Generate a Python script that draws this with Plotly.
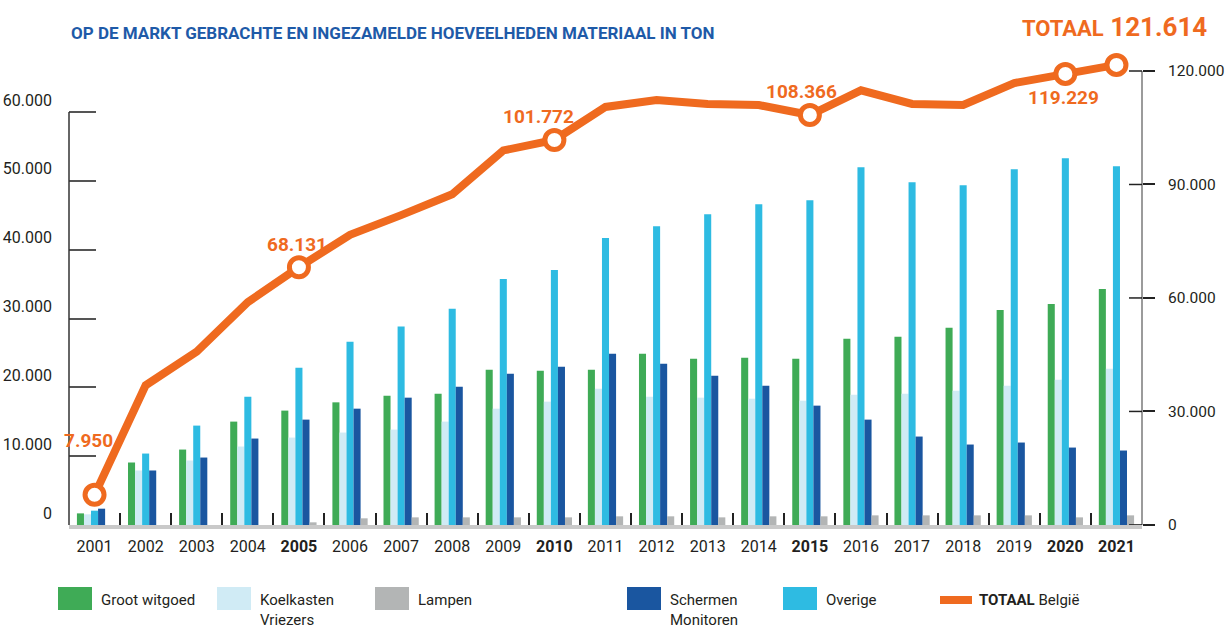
import plotly.graph_objects as go

# --- data (ton) ---
years = [str(y) for y in range(2001, 2022)]
groot_witgoed = [1690, 9080, 10960, 15020, 16620, 17820, 18790, 19080, 22560, 22410,
                 22560, 24870, 24150, 24290, 24150, 27050, 27340, 28640, 31250, 32120, 34290]
koelkasten = [1550, 7920, 9370, 11400, 12700, 13430, 13860, 15020, 16900, 17920,
              19800, 18640, 18500, 18350, 18060, 18930, 19080, 19510, 20240, 21110, 22700]
overige = [2080, 10380, 14440, 18640, 22850, 26610, 28830, 31400, 35740, 37050,
           41680, 43420, 45160, 46610, 47190, 51970, 49800, 49360, 51680, 53270, 52110]
schermen = [2370, 7920, 9800, 12560, 15310, 16900, 18500, 20090, 21980, 22990,
            24870, 23430, 21690, 20240, 17340, 15310, 12850, 11690, 11980, 11250, 10820]
lampen = [0, 0, 0, 0, 390, 970, 1110, 1110, 1110, 1110,
          1260, 1260, 1110, 1260, 1260, 1400, 1400, 1400, 1400, 1110, 1400]
totaal = [7950, 36900, 45800, 58900, 68131, 76700, 81900, 87400, 99000, 101772,
          110500, 112300, 111300, 111000, 108366, 114900, 111300, 111000, 116800, 119229, 121614]
highlight_years = ["2001", "2005", "2010", "2015", "2020", "2021"]
bold_years = ["2005", "2010", "2015", "2020", "2021"]
left_ticks = [0, 10000, 20000, 30000, 40000, 50000, 60000]
right_ticks = [0, 30000, 60000, 90000, 120000]

# --- style ---
FONT = "Roboto, Noto Sans, sans-serif"
C_GREEN = "#3fab56"
C_LIGHT = "#d0ebf5"
C_CYAN = "#2ebbe2"
C_DARK = "#1a56a0"
C_GRAY = "#b3b5b5"
C_ORANGE = "#ef6a1f"
C_BLUE_TITLE = "#1e5aa8"
C_TEXT = "#231f20"

W, H = 1227, 628
ML, MR, MT, MB = 69, 85, 60, 103
PW, PH = W - ML - MR, H - MT - MB
BOTTOM = H - MB  # pixel row of the baseline


def px(x, y):
    """pixel position -> paper coordinates"""
    return (x - ML) / PW, (BOTTOM - y) / PH


def fmt(v):
    return f"{v:,}".replace(",", ".")


fig = go.Figure()

series = [
    ("Groot witgoed", groot_witgoed, C_GREEN),
    ("Koelkasten Vriezers", koelkasten, C_LIGHT),
    ("Overige", overige, C_CYAN),
    ("Schermen Monitoren", schermen, C_DARK),
    ("Lampen", lampen, C_GRAY),
]
for name, vals, col in series:
    fig.add_trace(go.Bar(x=years, y=vals, name=name, marker=dict(color=col, line=dict(width=0)),
                         yaxis="y"))

fig.add_trace(go.Scatter(x=years, y=totaal, mode="lines", yaxis="y2", name="TOTAAL België",
                         line=dict(color=C_ORANGE, width=8), cliponaxis=False))
hx = [y for y in years if y in highlight_years]
hy = [t for y, t in zip(years, totaal) if y in highlight_years]
fig.add_trace(go.Scatter(x=hx, y=hy, mode="markers", yaxis="y2", showlegend=False,
                         marker=dict(size=19, color="white", line=dict(color=C_ORANGE, width=5)),
                         cliponaxis=False))

ticktext = [f"<b>{y}</b>" if y in bold_years else y for y in years]

# left axis: 0 on the baseline, 60.000 at 112px; right axis: 120.000 at 71px
y1_scale = (BOTTOM - 112) / 60000
y1_max = PH / y1_scale
y2_scale = (BOTTOM - 71) / 120000
y2_max = PH / y2_scale

fig.update_layout(
    width=W, height=H, margin=dict(l=ML, r=MR, t=MT, b=MB, autoexpand=False),
    paper_bgcolor="white", plot_bgcolor="white",
    barmode="group", bargap=0.31, bargroupgap=0,
    showlegend=False,
    font=dict(family=FONT, color=C_TEXT, size=16),
    xaxis=dict(type="category", range=[-0.5, 20.5], tickvals=years, ticktext=ticktext,
               automargin=False,
               showline=True, linecolor="#c9c9c9", linewidth=4, showgrid=False,
               ticks="inside", tickson="boundaries", ticklen=12, tickwidth=1.5, tickcolor="#222",
               tickfont=dict(size=16, color=C_TEXT), ticklabelstandoff=4),
    yaxis=dict(range=[0, y1_max], tickvals=left_ticks, ticktext=[fmt(v) for v in left_ticks],
               automargin=False,
               showgrid=False, zeroline=False, showline=False,
               ticks="inside", ticklen=27, tickwidth=1.5, tickcolor="#555",
               ticklabelposition="outside top", ticklabelstandoff=16,
               tickfont=dict(size=16, color=C_TEXT)),
    yaxis2=dict(range=[-20, y2_max], autorange=False, overlaying="y", side="right", anchor="x",
                automargin=False,
                tickvals=right_ticks, ticktext=[fmt(v) for v in right_ticks],
                showgrid=False, zeroline=False, showline=False,
                ticks="outside", ticklen=12, tickwidth=1.5, tickcolor="#222",
                ticklabelstandoff=10, tickfont=dict(size=15.5, color=C_TEXT)),
)

shapes = []
# left axis line (0 - 60.000)
shapes.append(dict(type="line", xref="paper", yref="y", x0=0, x1=0, y0=0, y1=left_ticks[-1],
                   line=dict(color="#333", width=1.5)))
# right axis line and inner half of its ticks
shapes.append(dict(type="line", xref="paper", yref="y2", x0=1, x1=1, y0=0, y1=right_ticks[-1],
                   line=dict(color="#7a7a7a", width=1.5)))
for v in right_ticks:
    shapes.append(dict(type="line", xref="paper", yref="y2", x0=1 - 13 / PW, x1=1, y0=v, y1=v,
                       line=dict(color="#222", width=1.5)))

annotations = []
# value labels on the total line
label_offsets = {"2001": (-6, 54), "2005": (-2, 23), "2010": (-16, 23),
                 "2015": (-8, 24), "2020": (-2, -24)}
for i, (yr, t) in enumerate(zip(years, totaal)):
    if yr in label_offsets:
        dx, dy = label_offsets[yr]
        annotations.append(dict(x=i, y=t, xref="x", yref="y2", text=f"<b>{fmt(t)}</b>",
                                showarrow=False, xshift=dx, yshift=dy,
                                font=dict(size=19, color=C_ORANGE, family=FONT)))

# title and headline total
tx, ty = px(69, 33)
annotations.append(dict(x=tx, y=ty, xref="paper", yref="paper", xanchor="left", yanchor="middle",
                        text="<b>OP DE MARKT GEBRACHTE EN INGEZAMELDE HOEVEELHEDEN MATERIAAL IN TON</b>",
                        showarrow=False, font=dict(size=17, color=C_BLUE_TITLE, family=FONT)))
hx0, hy0 = px(1209, 27)
annotations.append(dict(x=hx0, y=hy0, xref="paper", yref="paper", xanchor="right", yanchor="middle",
                        text=f"<b><span style='font-size:22px'>TOTAAL</span> {fmt(totaal[-1])}</b>",
                        showarrow=False, font=dict(size=26, color=C_ORANGE, family=FONT)))

# legend
legend_items = [
    (58, ["Groot witgoed"], C_GREEN),
    (217, ["Koelkasten", "Vriezers"], C_LIGHT),
    (375, ["Lampen"], C_GRAY),
    (627, ["Schermen", "Monitoren"], C_DARK),
    (783, ["Overige"], C_CYAN),
]
for x0, lines, col in legend_items:
    a0, b0 = px(x0, 610)
    a1, b1 = px(x0 + 34, 587)
    shapes.append(dict(type="rect", xref="paper", yref="paper", x0=a0, x1=a1, y0=b0, y1=b1,
                       fillcolor=col, line=dict(width=0)))
    for k, line_text in enumerate(lines):
        lx, ly = px(x0 + 42, 600 + 20 * k)
        annotations.append(dict(x=lx, y=ly, xref="paper", yref="paper", xanchor="left",
                                yanchor="middle", text=line_text, showarrow=False, borderpad=0,
                                font=dict(size=15, color=C_TEXT, family=FONT)))
a0, b0 = px(940, 600)
a1, _ = px(972, 600)
shapes.append(dict(type="line", xref="paper", yref="paper", x0=a0, x1=a1, y0=b0, y1=b0,
                   line=dict(color=C_ORANGE, width=8)))
lx, ly = px(978, 600)
annotations.append(dict(x=lx, y=ly, xref="paper", yref="paper", xanchor="left", yanchor="middle",
                        text="<b>TOTAAL</b> België", showarrow=False, borderpad=0,
                        font=dict(size=15, color=C_TEXT, family=FONT)))

fig.update_layout(shapes=shapes, annotations=annotations)
fig.write_html("out.html")
